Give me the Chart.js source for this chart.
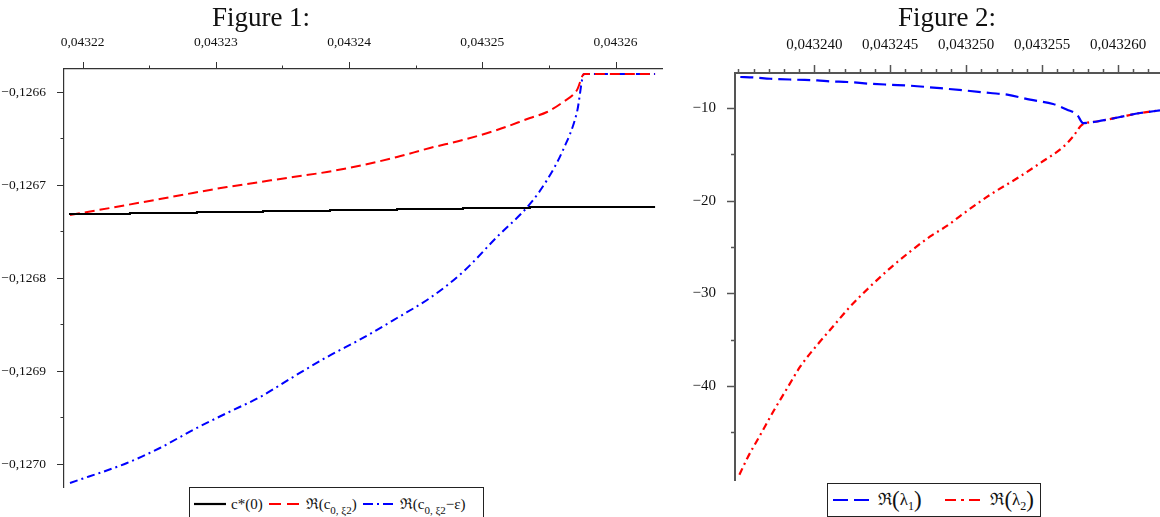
<!DOCTYPE html>
<html>
<head>
<meta charset="utf-8">
<script src="https://cdn.jsdelivr.net/npm/chart.js@4.4.1/dist/chart.umd.min.js"></script>
<style>
  body { margin: 0; background: #fff; }
  #wrap { position: relative; width: 1160px; height: 517px; overflow: hidden; background: #fff; font-family: "Liberation Serif", serif; }
  canvas { position: absolute; top: 0; }
  .title { position: absolute; top: 2px; font-size: 27px; color: #111; transform: translateX(-50%); white-space: nowrap; }
  .legend { position: absolute; border: 1.5px solid #222; background: #fff; display: flex; align-items: center; padding: 0 3px; height: 34px; color: #111; white-space: nowrap; box-sizing: border-box; }
  .legend .item { display: flex; align-items: center; }
  .legend svg { margin-right: 4px; }
  .legend .txt { display: inline-block; line-height: 18px; }
  .legend sub { font-size: 11px; vertical-align: -5px; line-height: 0; }
  .legend .p { font-size: 23px; line-height: 0; vertical-align: -2px; }
  #leg1 { font-size: 15px; }
  #leg1 .item { margin-right: 5px; }
  #leg2 { font-size: 17px; justify-content: space-between; padding: 0 6px 0 4px; }
  #leg2 sub { font-size: 12px; }
</style>
</head>
<body>
<div id="wrap">
  <canvas id="fig1" width="680" height="517" style="left:0"></canvas>
  <canvas id="fig2" width="480" height="517" style="left:680px"></canvas>
  <div class="title" style="left:261px">Figure 1:</div>
  <div class="title" style="left:947px">Figure 2:</div>
  <div class="legend" id="leg1" style="left:189px; top:487px; width:295px"></div>
  <div class="legend" id="leg2" style="left:827px; top:483px; width:214px"></div>
</div>
<script>
// Figure 1 data
const fig1X = [0.04321905, 0.04322333, 0.04322580, 0.04322828, 0.04323083, 0.04323331, 0.04323579, 0.04323834, 0.04324104, 0.04324360,
  0.04324607, 0.04324855, 0.04325110, 0.04325358, 0.04325486, 0.04325606, 0.04325711, 0.04325764, 0.04326297];
const fig1Red = [-0.1267323, -0.1267215, -0.1267151, -0.1267086, -0.1267022, -0.1266968, -0.1266914, -0.1266860, -0.1266785, -0.1266699,
  -0.1266602, -0.1266516, -0.1266409, -0.1266280, -0.1266215, -0.1266108, -0.1265978, -0.1265806, -0.1265806];
const fig1Blue = [-0.1270204, -0.1269989, -0.1269828, -0.1269634, -0.1269452, -0.1269280, -0.1269065, -0.1268850, -0.1268645, -0.1268430,
  -0.1268215, -0.1267935, -0.1267559, -0.1267204, -0.1266946, -0.1266624, -0.1266215, -0.1265806, -0.1265806];
const fig1BlackX = [0.04321905, 0.04322355, 0.04322858, 0.04323354, 0.04323857, 0.04324360, 0.04324855, 0.04325358, 0.04325861, 0.04326297];
const fig1Black = [-0.1267323, -0.1267312, -0.1267301, -0.1267290, -0.1267280, -0.1267269, -0.1267258, -0.1267247, -0.1267237, -0.1267237];
const fig1XTicks = [0.04322, 0.04323, 0.04324, 0.04325, 0.04326];
const fig1XLabels = ['0,04322', '0,04323', '0,04324', '0,04325', '0,04326'];
const fig1XMinor = [0.043225, 0.043235, 0.043245, 0.043255];
const fig1YTicks = [-0.1266, -0.1267, -0.1268, -0.1269, -0.1270];
const fig1YLabels = ['\u22120,1266', '\u22120,1267', '\u22120,1268', '\u22120,1269', '\u22120,1270'];
const fig1YMinor = [-0.12665, -0.12675, -0.12685, -0.12695];
const fig1Legend = ['c*(0)', '\u211c(c<sub>0, \u03be2</sub>)', '\u211c(c<sub>0, \u03be2</sub>\u2212\u03b5)'];

// Figure 2 data
const fig2BlueX = [0.04323513, 0.04323599, 0.04323711, 0.04323888, 0.04324020, 0.04324105, 0.04324217, 0.04324368, 0.04324500, 0.04324632,
  0.04324829, 0.04325007, 0.04325158, 0.04325270, 0.04325421, 0.04325572, 0.04325664, 0.04325730, 0.04325770, 0.04325862,
  0.04326013, 0.04326145, 0.04326276];
const fig2Blue = [-6.65, -6.70, -6.84, -6.95, -7.02, -7.13, -7.19, -7.38, -7.49, -7.59,
  -7.86, -8.13, -8.38, -8.56, -9.10, -9.57, -10.18, -10.72, -11.62, -11.45,
  -10.97, -10.54, -10.26];
const fig2RedX = [0.04323507, 0.04323559, 0.04323645, 0.04323730, 0.04323822, 0.04323908, 0.04324020, 0.04324105, 0.04324237, 0.04324368,
  0.04324500, 0.04324632, 0.04324763, 0.04324875, 0.04324980, 0.04325158, 0.04325355, 0.04325487, 0.04325638, 0.04325704,
  0.04325763, 0.04325862, 0.04326013, 0.04326145, 0.04326276];
const fig2Red = [-49.58, -47.78, -45.26, -42.75, -40.22, -37.89, -35.55, -33.93, -31.41, -29.26,
  -27.27, -25.48, -23.86, -22.70, -21.41, -19.36, -17.38, -15.94, -14.21, -13.07,
  -11.80, -11.45, -10.97, -10.54, -10.26];
const fig2XTicks = [0.04324, 0.043245, 0.04325, 0.043255, 0.04326];
const fig2XLabels = ['0,043240', '0,043245', '0,043250', '0,043255', '0,043260'];
const fig2XMinor = [0.043235, 0.043236, 0.043237, 0.043238, 0.043239, 0.043241, 0.043242, 0.043243, 0.043244,
  0.043246, 0.043247, 0.043248, 0.043249, 0.043251, 0.043252, 0.043253, 0.043254,
  0.043256, 0.043257, 0.043258, 0.043259, 0.043261, 0.043262];
const fig2YTicks = [-10, -20, -30, -40];
const fig2YLabels = ['\u221210', '\u221220', '\u221230', '\u221240'];
const fig2YMinor = [-15, -25, -35, -45];
const fig2Legend = ['\u211c<span class="p">(</span>\u03bb<sub>1</sub><span class="p">)</span>',
  '\u211c<span class="p">(</span>\u03bb<sub>2</sub><span class="p">)</span>'];

const pts = (xs, ys) => xs.map((x, i) => ({ x: x, y: ys[i] }));

// ticks of two lengths, drawn outward from the axes
const tickMarks = {
  id: 'tickMarks',
  afterDraw(chart, args, opts) {
    const ctx = chart.ctx, area = chart.chartArea;
    const xs = chart.scales.x, ys = chart.scales.y;
    ctx.save();
    ctx.strokeStyle = opts.color;
    ctx.lineWidth = opts.width;
    xs.ticks.forEach(t => {
      const px = Math.round(xs.getPixelForValue(t.value)) + 0.5;
      const len = t.label ? opts.major : opts.minor;
      ctx.beginPath(); ctx.moveTo(px, area.top); ctx.lineTo(px, area.top - len); ctx.stroke();
    });
    ys.ticks.forEach(t => {
      const py = Math.round(ys.getPixelForValue(t.value)) + 0.5;
      const len = t.label ? opts.major : opts.minor;
      ctx.beginPath(); ctx.moveTo(area.left, py); ctx.lineTo(area.left - len, py); ctx.stroke();
    });
    ctx.restore();
  }
};

function makeScales(cfg) {
  const lookup = (majors, labels, v) => {
    const i = majors.findIndex(m => Math.abs(m - v) < 1e-12 + Math.abs(m) * 1e-9);
    return i >= 0 ? labels[i] : '';
  };
  return {
    x: {
      type: 'linear', position: 'top', min: cfg.xMin, max: cfg.xMax,
      grid: { display: false },
      border: { display: true, color: cfg.axisColor, width: cfg.axisWidth },
      afterBuildTicks: s => { s.ticks = cfg.xTicks.concat(cfg.xMinor).sort((a, b) => a - b).map(v => ({ value: v })); },
      afterFit: s => { s.height = cfg.top; },
      ticks: {
        autoSkip: false, maxRotation: 0, padding: cfg.xPad, color: '#111',
        font: { family: 'Liberation Serif', size: cfg.fontSize },
        callback: v => lookup(cfg.xTicks, cfg.xLabels, v)
      }
    },
    y: {
      type: 'linear', min: cfg.yMin, max: cfg.yMax,
      grid: { display: false },
      border: { display: true, color: cfg.axisColor, width: cfg.axisWidth },
      afterBuildTicks: s => { s.ticks = cfg.yTicks.concat(cfg.yMinor).sort((a, b) => a - b).map(v => ({ value: v })); },
      afterFit: s => { s.width = cfg.left; },
      ticks: {
        autoSkip: false, padding: cfg.yPad, color: '#111',
        font: { family: 'Liberation Serif', size: cfg.fontSize },
        callback: v => lookup(cfg.yTicks, cfg.yLabels, v)
      }
    }
  };
}

function buildLegend(el, datasets, labels, w) {
  el.innerHTML = datasets.map((d, i) =>
    '<span class="item"><svg width="' + w + '" height="8"><line x1="1" y1="4" x2="' + (w - 1) + '" y2="4" stroke="' + d.borderColor +
    '" stroke-width="2.2" stroke-dasharray="' + (d.legendDash || []).join(' ') + '"/></svg><span class="txt">' + labels[i] + '</span></span>'
  ).join('');
}

const fig1Sets = [
  { label: 'c*(0)', data: pts(fig1BlackX, fig1Black), borderColor: '#000', borderWidth: 2, stepped: 'after', legendDash: [] },
  { label: 'Re(c0,xi2)', data: pts(fig1X, fig1Red), borderColor: '#ff0000', borderWidth: 2, borderDash: [10, 5], legendDash: [12, 6],
    cubicInterpolationMode: 'monotone' },
  { label: 'Re(c0,xi2-eps)', data: pts(fig1X, fig1Blue), borderColor: '#0000ff', borderWidth: 2, borderDash: [8, 4, 2, 4], legendDash: [10, 4, 2, 4],
    cubicInterpolationMode: 'monotone' }
];

new Chart(document.getElementById('fig1'), {
  type: 'line',
  data: { datasets: fig1Sets },
  options: {
    responsive: false, animation: false, devicePixelRatio: 1,
    layout: { padding: { left: 0, top: 0, right: 18, bottom: 30 } },
    elements: { point: { radius: 0 } },
    plugins: { legend: { display: false }, tooltip: { enabled: false },
      tickMarks: { color: '#333', width: 1, major: 7, minor: 3.5 } },
    scales: makeScales({
      xMin: 0.0432186, xMax: 0.04326349, yMin: -0.12702474, yMax: -0.12657527,
      xTicks: fig1XTicks, xLabels: fig1XLabels, xMinor: fig1XMinor,
      yTicks: fig1YTicks, yLabels: fig1YLabels, yMinor: fig1YMinor,
      top: 69, left: 64, xPad: 10, yPad: 10, fontSize: 13.5, axisColor: '#333', axisWidth: 1.2
    })
  },
  plugins: [tickMarks]
});
buildLegend(document.getElementById('leg1'), fig1Sets, fig1Legend, 34);

const fig2Sets = [
  { label: 'Re(l1)', data: pts(fig2BlueX, fig2Blue), borderColor: '#0000ff', borderWidth: 2.2, borderDash: [13, 6], legendDash: [15, 6],
    cubicInterpolationMode: 'monotone' },
  { label: 'Re(l2)', data: pts(fig2RedX, fig2Red), borderColor: '#ff0000', borderWidth: 2.2, borderDash: [7, 4, 2, 4], legendDash: [11, 5, 3, 5],
    cubicInterpolationMode: 'monotone' }
];

new Chart(document.getElementById('fig2'), {
  type: 'line',
  data: { datasets: fig2Sets },
  options: {
    responsive: false, animation: false, devicePixelRatio: 1,
    layout: { padding: { left: 0, top: 0, right: 0, bottom: 37 } },
    elements: { point: { radius: 0 } },
    plugins: { legend: { display: false }, tooltip: { enabled: false },
      tickMarks: { color: '#555', width: 1.5, major: 8, minor: 4 } },
    scales: makeScales({
      xMin: 0.04323478, xMax: 0.04326276, yMin: -50.14, yMax: -6.22,
      xTicks: fig2XTicks, xLabels: fig2XLabels, xMinor: fig2XMinor,
      yTicks: fig2YTicks, yLabels: fig2YLabels, yMinor: fig2YMinor,
      top: 73, left: 55, xPad: 11, yPad: 11, fontSize: 15, axisColor: '#555', axisWidth: 2
    })
  },
  plugins: [tickMarks]
});
buildLegend(document.getElementById('leg2'), fig2Sets, fig2Legend, 42);
</script>
</body>
</html>
